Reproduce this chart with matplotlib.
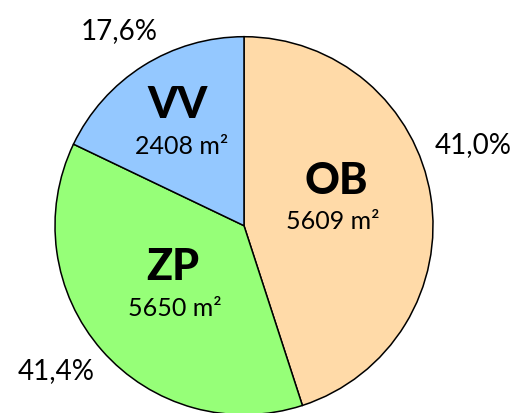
import matplotlib.pyplot as plt

# categories in clockwise order starting at the top
names = ['OB', 'ZP', 'VV']
areas = [5609, 5650, 2408]            # m2, printed inside the wedges
pct_labels = [41.0, 41.4, 17.6]       # % printed outside
# wedge sizes as drawn in the picture (% of the circle)
wedge_share = [45.0, 37.1, 17.9]
colors = ['#FFDAA8', '#96FF78', '#94C8FF']

W, H = 525, 414
R = 189.0                 # pie radius in pixels
CX, CY = 244.0, 226.7     # pie centre in pixels (from top-left)


def px(x, y):
    # pixel position (from top-left) -> data coords
    return (x - CX) / R, (H - y - (H - CY)) / R


plt.rcParams['font.family'] = ['Lato', 'DejaVu Sans']

fig = plt.figure(figsize=(W / 100, H / 100), dpi=100)
ax = fig.add_axes([0, 0, 1, 1])
ax.pie(wedge_share, colors=colors, startangle=90, counterclock=False,
       radius=1.0, wedgeprops=dict(edgecolor='black', linewidth=1.1))
ax.set_xlim(-CX / R, (W - CX) / R)
ax.set_ylim(-(H - CY) / R, CY / R)
ax.set_aspect('equal')
ax.axis('off')

# name, area text and percentage text positions in pixels
name_pos = [(336, 181), (173, 267), (178, 105)]
area_pos = [(333, 222), (175, 309), (182, 147)]
pct_pos = [(473, 145), (56, 371), (119, 31)]

for i in range(len(names)):
    ax.text(*px(*name_pos[i]), names[i], ha='center', va='center',
            fontsize=31, fontweight='black')
    ax.text(*px(*area_pos[i]), f'{areas[i]} m²', ha='center', va='center',
            fontsize=18)
    ax.text(*px(*pct_pos[i]), f'{pct_labels[i]:.1f}%'.replace('.', ','),
            ha='center', va='center', fontsize=20)

fig.savefig('out.png', dpi=100)
